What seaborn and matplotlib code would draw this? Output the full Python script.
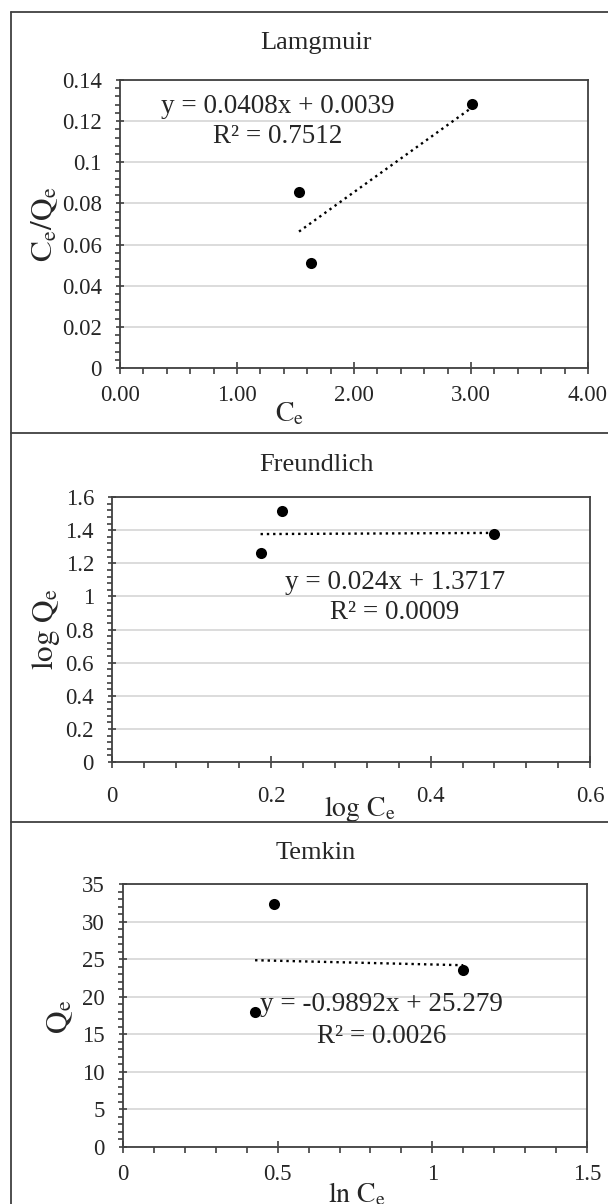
#### Isotherm plots: Langmuir, Freundlich, Temkin

import numpy as np
import pandas as pd
from matplotlib import pyplot as plt
from matplotlib.lines import Line2D
from matplotlib.ticker import MultipleLocator, FuncFormatter
import seaborn as sns

##### Data

lang_ce = [1.53, 1.63, 3.01]
lang_ceqe = [0.0856, 0.0510, 0.1283]
lang_slope, lang_icpt = 0.0408, 0.0039
lang_eq = ['y = 0.0408x + 0.0039', 'R² = 0.7512']

freund_logce = [0.1865, 0.2128, 0.479]
freund_logqe = [1.26, 1.517, 1.376]
freund_slope, freund_icpt = 0.024, 1.3717
freund_eq = ['y = 0.024x + 1.3717', 'R² = 0.0009']

temkin_lnce = [0.427, 0.488, 1.100]
temkin_qe = [18.0, 32.3, 23.5]
temkin_slope, temkin_icpt = -0.9892, 25.279
temkin_eq = ['y = -0.9892x + 25.279', 'R² = 0.0026']

titles = ['Lamgmuir', 'Freundlich', 'Temkin']

##### Style

sns.set_theme(style='white')
plt.rcParams['font.family'] = ['Liberation Serif', 'DejaVu Serif']
plt.rcParams['mathtext.fontset'] = 'stix'

W, H = 608, 1204
fig = plt.figure(figsize=(W / 100, H / 100), dpi=100)
edge = '#404040'


def px_axes(left, right, top, bottom):
    return fig.add_axes([left / W, 1 - bottom / H, (right - left) / W, (bottom - top) / H])


def gfmt(v, pos):
    return '{:g}'.format(round(v, 6))


def style_axes(ax, xlim, ylim, xmaj, xmin, ymaj, ymin, xfmt, xpad=8):
    ax.set_xlim(*xlim)
    ax.set_ylim(*ylim)
    ax.xaxis.set_major_locator(MultipleLocator(xmaj))
    ax.xaxis.set_minor_locator(MultipleLocator(xmin))
    ax.yaxis.set_major_locator(MultipleLocator(ymaj))
    ax.yaxis.set_minor_locator(MultipleLocator(ymin))
    ax.xaxis.set_major_formatter(xfmt)
    ax.yaxis.set_major_formatter(FuncFormatter(gfmt))
    ax.tick_params(axis='x', which='major', direction='inout', length=9, width=1.2,
                   color=edge, labelsize=16.5, pad=xpad, bottom=True)
    ax.tick_params(axis='x', which='minor', direction='out', length=4, width=1.2,
                   color=edge, bottom=True)
    ax.tick_params(axis='y', which='major', direction='inout', length=6, width=1.2,
                   color=edge, labelsize=16.5, pad=10, left=True)
    ax.tick_params(axis='y', which='minor', direction='out', length=3.5, width=1.2,
                   color=edge, left=True)
    for s in ax.spines.values():
        s.set_color(edge)
        s.set_linewidth(1.3)
        s.set_visible(True)
    ax.yaxis.grid(True, color='#d9d9d9', lw=1.3)
    ax.xaxis.grid(False)
    ax.set_axisbelow(True)


def draw_panel(ax, x, y, slope, icpt, eq, eq_pos):
    sns.scatterplot(x=x, y=y, ax=ax, color='black', s=64, edgecolor='black',
                    linewidth=0, zorder=3)
    xs = np.array([min(x), max(x)])
    sns.lineplot(x=xs, y=slope * xs + icpt, ax=ax, color='black', lw=1.7,
                 linestyle=':', zorder=2)
    ax.text(eq_pos[0], eq_pos[1], eq[0], ha='center', va='center', fontsize=19.5)
    ax.text(eq_pos[0], eq_pos[2], eq[1], ha='center', va='center', fontsize=19.5)


##### Langmuir

ax1 = px_axes(120, 588, 80, 368)
draw_panel(ax1, lang_ce, lang_ceqe, lang_slope, lang_icpt, lang_eq, (1.35, 0.1269, 0.1123))
style_axes(ax1, (0, 4), (0, 0.14), 1, 0.2, 0.02, 0.004,
           FuncFormatter(lambda v, p: '{:.2f}'.format(v)))
ax1.set_xlabel(r'$\mathrm{C_e}$', fontsize=20, va='center')
ax1.xaxis.set_label_coords(0.363, -0.158)
ax1.set_ylabel(r'$\mathrm{C_e/Q_e}$', fontsize=22.5, va='center')
ax1.yaxis.set_label_coords(-0.160, 0.5)

##### Freundlich

ax2 = px_axes(112, 590, 497, 762)
draw_panel(ax2, freund_logce, freund_logqe, freund_slope, freund_icpt, freund_eq,
           (0.355, 1.081, 0.90))
style_axes(ax2, (0, 0.6), (0, 1.6), 0.2, 0.04, 0.2, 0.04, FuncFormatter(gfmt), xpad=13)
ax2.set_xlabel(r'$\mathrm{log\ C_e}$', fontsize=20, va='center')
ax2.xaxis.set_label_coords(0.519, -0.176)
ax2.set_ylabel(r'$\mathrm{log\ Q_e}$', fontsize=22.5, va='center')
ax2.yaxis.set_label_coords(-0.138, 0.5)

##### Temkin

ax3 = px_axes(123, 587, 884, 1147)
draw_panel(ax3, temkin_lnce, temkin_qe, temkin_slope, temkin_icpt, temkin_eq,
           (0.837, 18.9, 14.64))
style_axes(ax3, (0, 1.5), (0, 35), 0.5, 0.1, 5, 1, FuncFormatter(gfmt))
ax3.set_xlabel(r'$\mathrm{ln\ C_e}$', fontsize=20, va='center')
ax3.xaxis.set_label_coords(0.504, -0.180)
ax3.set_ylabel(r'$\mathrm{Q_e}$', fontsize=22.5, va='center')
ax3.yaxis.set_label_coords(-0.136, 0.494)

##### Titles and panel borders

for t, yp in zip(titles, [43, 465, 853]):
    fig.text(316 / W, 1 - yp / H, t, ha='center', va='center', fontsize=19)

for yp in [12, 433, 822]:
    fig.add_artist(Line2D([11 / W, 1], [1 - yp / H] * 2, color=edge, lw=1.3))
fig.add_artist(Line2D([11 / W] * 2, [1 - 12 / H, 0], color=edge, lw=1.3))

plt.savefig('out.png', dpi=100)
